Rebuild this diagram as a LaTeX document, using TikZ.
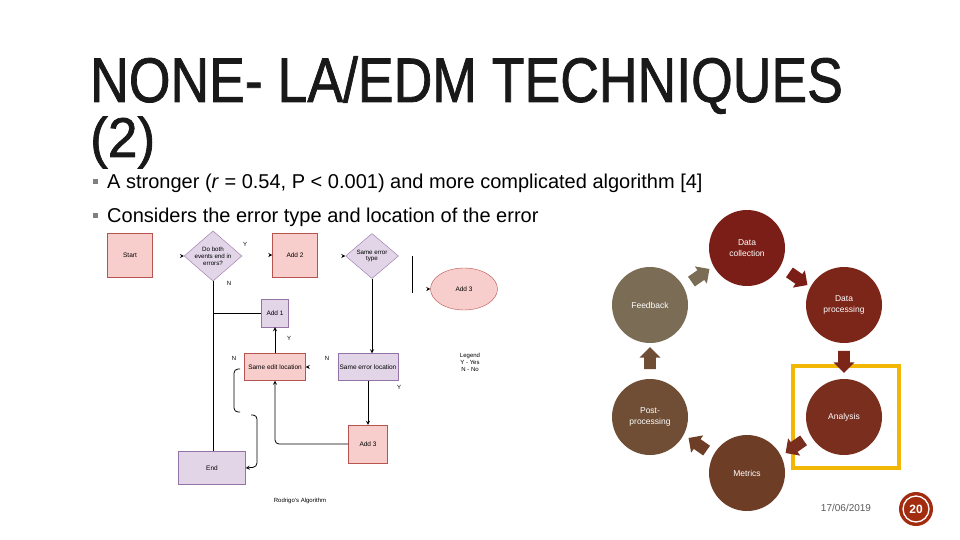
\documentclass[tikz,border=0pt]{standalone}
\usepackage{fontspec}
\setmainfont{Liberation Sans}
\newfontfamily\headfont[FakeBold=1.3]{Liberation Sans}
\usetikzlibrary{shapes.geometric,shapes.arrows}
\definecolor{pinkfill}{HTML}{F8CECC}
\definecolor{pinkline}{HTML}{B85450}
\definecolor{lavfill}{HTML}{E1D5E7}
\definecolor{lavline}{HTML}{9673A6}
\definecolor{redA}{HTML}{7A1E17}
\definecolor{redB}{HTML}{7C2519}
\definecolor{redC}{HTML}{7A2E1D}
\definecolor{brownA}{HTML}{6E3D26}
\definecolor{brownB}{HTML}{6F4E35}
\definecolor{oliveA}{HTML}{7B6C56}
\definecolor{goldbox}{HTML}{F2B705}
\definecolor{pagered}{HTML}{A32C10}
\begin{document}
\begin{tikzpicture}[x=1pt, y=-1pt, >=stealth,
    pinkbox/.style={draw=pinkline, fill=pinkfill, inner sep=0pt, font=\fontsize{6.5}{7.5}\selectfont},
    lavbox/.style={draw=lavline, fill=lavfill, inner sep=0pt, font=\fontsize{6.5}{7.5}\selectfont},
    decision/.style={diamond, draw=lavline, fill=lavfill, inner sep=0pt, aspect=1.15,
        minimum width=54pt, minimum height=46pt, align=center, font=\fontsize{6.2}{6.8}\selectfont},
    tag/.style={font=\fontsize{6}{6}\selectfont},
    flow/.style={line width=.8pt},
    phase/.style={circle, minimum size=76pt, inner sep=0pt, text=white, align=center,
        font=\fontsize{8.5}{10.5}\selectfont},
    blockarrow/.style={single arrow, minimum height=22pt, minimum width=21pt,
        single arrow head extend=4pt, inner sep=5pt}]
\useasboundingbox (0,0) rectangle (960,540);
% title and bullets
\node[anchor=base west, inner sep=0pt, text=black!90] (title) at (90,102)
    {\headfont\fontsize{63}{63}\selectfont\scalebox{.85}[1]{NONE- LA/EDM TECHNIQUES}};
\node[anchor=base west, inner sep=0pt, text=black!90] (titletwo) at (90,157)
    {\headfont\fontsize{56}{56}\selectfont\scalebox{.95}[1]{(2)}};
\foreach \yb/\txt [count=\i] in {188/{A stronger (\textit{r} = 0.54, P < 0.001) and more complicated algorithm [4]},
    222/{Considers the error type and location of the error}}
{
    \fill[gray] (93,\yb-9) rectangle (98,\yb-4);
    \node[anchor=base west, inner sep=0pt] (bullet\i) at (107,\yb)
        {\fontsize{20}{22}\selectfont\txt};
}
% flowchart
\node[pinkbox, minimum width=45pt, minimum height=44pt] (start) at (130,255) {Start};
\node[decision] (bothend) at (213,256) {Do both\\events end in\\errors?};
\node[pinkbox, minimum width=45pt, minimum height=44pt] (addtwo) at (295,255) {Add 2};
\node[decision, minimum width=53pt, minimum height=45pt] (errtype) at (372,256) {Same error\\type};
\node[ellipse, draw=pinkline, fill=pinkfill, minimum width=67pt, minimum height=42pt,
    font=\fontsize{6.5}{7.5}\selectfont] (addthree) at (464,289) {Add 3};
\node[lavbox, minimum width=27pt, minimum height=28pt] (addone) at (275,313) {Add 1};
\node[pinkbox, minimum width=61pt, minimum height=27pt] (editloc) at (275,367) {Same edit location};
\node[lavbox, minimum width=60pt, minimum height=27pt] (errloc) at (368,367) {Same error location};
\node[pinkbox, minimum width=39pt, minimum height=38pt] (addthreeb) at (368,444) {Add 3};
\node[lavbox, minimum width=67pt, minimum height=33pt] (finish) at (212,468) {End};
\node[font=\fontsize{6}{6}\selectfont] (caption) at (300,501) {Rodrigo's Algorithm};
\node[align=center, font=\fontsize{6}{7}\selectfont] (legend) at (470,362) {Legend\\Y - Yes\\N - No};
% connectors
\draw[flow] (bothend.south) -- (bothend.south |- finish.north);
\draw[flow] (bothend.south |- addone.west) -- (addone.west);
\draw[flow, ->] (editloc.north) -- (addone.south);
\draw[flow, ->] (errtype.south) -- (errtype.south |- errloc.north);
\draw[flow, ->] (errloc.south) -- (addthreeb.north);
\draw[flow, ->, rounded corners=4pt] (addthreeb.west) -| (editloc.south);
\coordinate (loopa) at (240,369);
\coordinate (loopb) at (240,412);
\coordinate (loopc) at (251,415);
\draw[flow, rounded corners=4pt] (loopa) -- (234,369) -- (234,412) -- (loopb);
\draw[flow, ->, rounded corners=4pt] (loopc) -- (257,415) -- (257,467) -- (finish.east);
\draw[line width=1pt] (412,256) -- (412,293);
\foreach \n/\side in {bothend/west, addtwo/west, errtype/west, addthree/west}
    \draw[flow, ->] ([xshift=-3pt]\n.\side) -- (\n.\side);
\draw[flow, ->] ([xshift=3pt]editloc.east) -- (editloc.east);
% branch labels
\node[tag] (ya) at (245,244) {Y};
\node[tag] (na) at (229,283) {N};
\node[tag] (yb) at (289,338) {Y};
\node[tag] (nb) at (234,358) {N};
\node[tag] (nc) at (327,358) {N};
\node[tag] (yc) at (399,387) {Y};
% cycle of phases
\fill[goldbox] (791,364) rectangle (901,470);
\fill[white] (795,368) rectangle (897,466);
\node[phase, fill=redA] (collect) at (747,248) {Data\\collection};
\node[phase, fill=redB] (process) at (844,305) {Data\\processing};
\node[phase, fill=redC] (analysis) at (844,417) {Analysis};
\node[phase, fill=brownA] (metrics) at (747,473) {Metrics};
\node[phase, fill=brownB] (post) at (650,417) {Post-\\processing};
\node[phase, fill=oliveA] (feedback) at (650,305) {Feedback};
\node[blockarrow, fill=oliveA, rotate=35] (arrfc) at (698,277) {};
\node[blockarrow, fill=redA, rotate=-35] (arrcp) at (796,277) {};
\node[blockarrow, fill=redB, rotate=-90] (arrpa) at (844,359) {};
\node[blockarrow, fill=redC, rotate=-145] (arram) at (797,445) {};
\node[blockarrow, fill=brownA, rotate=145] (arrmp) at (700,446) {};
\node[blockarrow, fill=brownB, rotate=90] (arrpf) at (650,361) {};
% footer
\node[text=black!65, font=\fontsize{10}{12}\selectfont] (date) at (846,508) {17/06/2019};
\node[circle, fill=pagered, minimum size=34pt, inner sep=0pt] (pagedisc) at (916,509) {};
\draw[white, line width=1.3pt] (pagedisc.center) circle (13pt);
\node[text=white, font=\fontsize{12}{12}\bfseries\selectfont] (pagenum) at (pagedisc.center) {20};
\end{tikzpicture}
\end{document}
